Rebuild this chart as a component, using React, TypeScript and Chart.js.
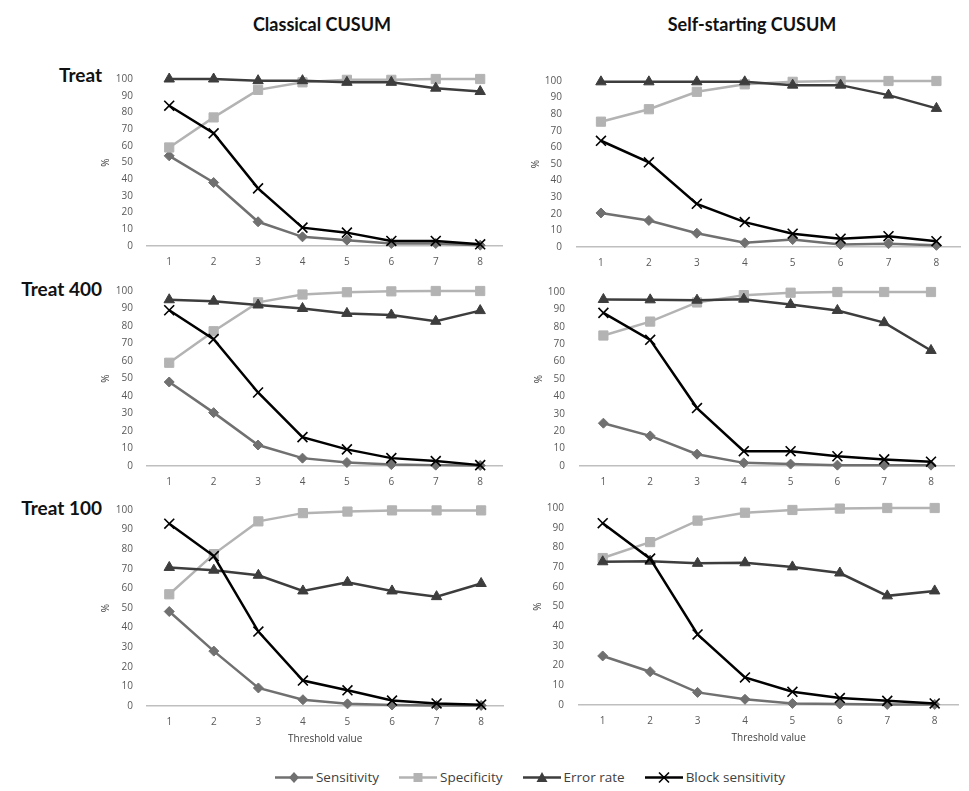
import React, { useEffect, useRef } from "react";
import { Chart, registerables } from "chart.js";

Chart.register(...registerables);

// ---------- data ----------
const thresholds = ["1", "2", "3", "4", "5", "6", "7", "8"];
const seriesNames = ["Sensitivity", "Specificity", "Error rate", "Block sensitivity"];
const columnTitles = ["Classical CUSUM", "Self-starting CUSUM"];
const rowTitles = ["Treat", "Treat 400", "Treat 100"];

const classicalTreatSens = [54, 38, 14.5, 5.5, 3.5, 1.5, 1.5, 0.5];
const classicalTreatSpec = [59, 77, 93.5, 98, 99.5, 99.5, 100, 100];
const classicalTreatErr = [100, 100, 99, 99, 98, 98, 94.5, 92.5];
const classicalTreatBlock = [84, 67.5, 34.5, 11, 8, 3, 3, 1];

const selfTreatSens = [20.5, 16, 8.3, 2.5, 4.5, 1.5, 2, 1];
const selfTreatSpec = [75.5, 83, 93.5, 98, 99.5, 100, 100, 100];
const selfTreatErr = [99.5, 99.5, 99.5, 99.5, 97.5, 97.5, 91.5, 83.5];
const selfTreatBlock = [64, 51, 26, 15, 8, 5, 6.5, 3.5];

const classical400Sens = [48, 30.5, 12, 4.5, 2, 0.8, 0.5, 0.3];
const classical400Spec = [59, 77, 93.5, 98, 99.3, 99.8, 100, 100];
const classical400Err = [95, 94.2, 92, 90, 87.2, 86.3, 82.7, 88.8];
const classical400Block = [89, 72.5, 42, 16.5, 9.5, 4.5, 2.8, 0.5];

const self400Sens = [24.6, 17.3, 6.8, 1.8, 1.1, 0.5, 0.5, 0.5];
const self400Spec = [75, 83, 94, 98.2, 99.6, 100, 100, 100];
const self400Err = [95.7, 95.5, 95.3, 95.9, 92.8, 89.4, 82.4, 66.4];
const self400Block = [88, 72.5, 33.3, 8.5, 8.5, 5.6, 3.8, 2.5];

const classical100Sens = [48.2, 28, 9.2, 3.2, 1.1, 0.5, 0.3, 0.3];
const classical100Spec = [57, 77.5, 94.2, 98.4, 99.2, 99.8, 99.8, 99.8];
const classical100Err = [70.7, 69.3, 66.7, 58.7, 63.1, 58.7, 55.8, 62.5];
const classical100Block = [93, 76.5, 38, 13, 8, 2.8, 1.3, 0.7];

const self100Sens = [24.9, 16.9, 6.4, 2.9, 0.8, 0.5, 0.3, 0.3];
const self100Spec = [74.6, 82.7, 93.6, 97.6, 99, 99.7, 100, 100];
const self100Err = [72.7, 73, 71.9, 72.2, 70.1, 67, 55.4, 57.9];
const self100Block = [92.3, 74.3, 35.8, 14, 6.7, 3.5, 2.1, 0.8];

// ---------- styles ----------
const COLORS = ["#707070", "#b3b3b3", "#3d3d3d", "#000000"];
const FONT = "'Open Sans', 'DejaVu Sans', sans-serif";
const TICK_COLOR = "#595959";

type PanelProps = {
  plotLeft: number;
  plotRight: number;
  plotTop: number;
  plotBottom: number;
  sens: number[];
  spec: number[];
  err: number[];
  block: number[];
  xTitle?: boolean;
  labelPad: number;
};

function Panel(p: PanelProps) {
  const ref = useRef<HTMLCanvasElement | null>(null);
  const Y_W = 50;
  const PAD_TOP = 10;
  const xH = p.xTitle ? 45 : 26;
  const left = p.plotLeft - Y_W;
  const top = p.plotTop - PAD_TOP;
  const width = p.plotRight - left;
  const height = p.plotBottom + xH - top;

  useEffect(() => {
    if (!ref.current) return;
    const tickFont = { family: FONT, size: 10 };
    const mk = (i: number, data: number[], style: any, radius: number, order: number) => ({
      label: seriesNames[i],
      data,
      borderColor: COLORS[i],
      backgroundColor: COLORS[i],
      pointBackgroundColor: COLORS[i],
      pointBorderColor: COLORS[i],
      borderWidth: 2.5,
      pointStyle: style,
      pointRadius: radius,
      pointBorderWidth: style === "crossRot" ? 1.6 : 1,
      tension: 0,
      clip: false as any,
      order,
    });
    const chart = new Chart(ref.current, {
      type: "line",
      data: {
        labels: thresholds,
        datasets: [
          mk(0, p.sens, "rectRot", 5, 3),
          mk(1, p.spec, "rect", 6.5, 2),
          mk(2, p.err, "triangle", 6, 1),
          mk(3, p.block, "crossRot", 7, 0),
        ],
      },
      options: {
        responsive: false,
        animation: false,
        devicePixelRatio: 1,
        layout: { padding: { top: PAD_TOP, left: 0, right: 0, bottom: 0 } },
        plugins: { legend: { display: false }, tooltip: { enabled: false } },
        scales: {
          x: {
            offset: true,
            grid: { display: false, drawTicks: false },
            border: { display: true, color: "#bfbfbf", width: 1.5 },
            ticks: { font: tickFont, color: TICK_COLOR, padding: 10, maxRotation: 0 },
            title: {
              display: !!p.xTitle,
              text: "Threshold value",
              font: { family: FONT, size: 10 },
              color: "#404040",
              padding: { top: 0, bottom: 6 },
            },
            afterFit: (s: any) => {
              s.height = xH;
            },
          },
          y: {
            min: 0,
            max: 100,
            ticks: { stepSize: 10, font: tickFont, color: TICK_COLOR, padding: p.labelPad },
            grid: { display: false, drawTicks: false },
            border: { display: false },
            title: {
              display: true,
              text: "%",
              font: { family: FONT, size: 10 },
              color: "#404040",
              padding: { top: 3, bottom: 0 },
            },
            afterFit: (s: any) => {
              s.width = Y_W;
            },
          },
        },
      } as any,
    });
    return () => chart.destroy();
  }, []);

  return (
    <canvas
      ref={ref}
      width={width}
      height={height}
      style={{ position: "absolute", left, top, width, height }}
    />
  );
}

function LegendMarker({ i }: { i: number }) {
  const c = COLORS[i];
  let m: any = null;
  if (i === 0) m = <polygon points="19,1 24,6.5 19,12 14,6.5" fill={c} />;
  if (i === 1) m = <rect x={14.5} y={2} width={9} height={9} fill={c} />;
  if (i === 2) m = <polygon points="19,1 24.5,11 13.5,11" fill={c} />;
  if (i === 3)
    m = (
      <g stroke={c} strokeWidth={1.6}>
        <line x1={14} y1={1.5} x2={24} y2={11.5} />
        <line x1={24} y1={1.5} x2={14} y2={11.5} />
      </g>
    );
  return (
    <svg width={38} height={13} style={{ display: "block" }}>
      <line x1={0} y1={6.5} x2={38} y2={6.5} stroke={c} strokeWidth={2.5} />
      {m}
    </svg>
  );
}

export default function App() {
  const titleStyle: React.CSSProperties = {
    position: "absolute",
    fontFamily: "Lato, 'Open Sans', sans-serif",
    fontWeight: 700,
    fontSize: 18,
    color: "#111",
    whiteSpace: "nowrap",
    lineHeight: "20px",
  };
  return (
    <div
      style={{
        position: "absolute",
        left: 0,
        top: 0,
        width: 969,
        height: 791,
        background: "#fff",
        overflow: "hidden",
      }}
    >
      <div style={{ ...titleStyle, left: 222, width: 200, top: 14, textAlign: "center" }}>
        {columnTitles[0]}
      </div>
      <div style={{ ...titleStyle, left: 652, width: 200, top: 14, textAlign: "center" }}>
        {columnTitles[1]}
      </div>
      <div style={{ ...titleStyle, fontSize: 19, left: 0, width: 102, top: 65, textAlign: "right" }}>
        {rowTitles[0]}
      </div>
      <div style={{ ...titleStyle, fontSize: 19, left: 0, width: 102, top: 279, textAlign: "right" }}>
        {rowTitles[1]}
      </div>
      <div style={{ ...titleStyle, fontSize: 19, left: 0, width: 102, top: 498, textAlign: "right" }}>
        {rowTitles[2]}
      </div>

      <Panel plotLeft={147} plotRight={511} plotTop={69} plotBottom={246}
        sens={classicalTreatSens} spec={classicalTreatSpec} err={classicalTreatErr} block={classicalTreatBlock} labelPad={14} />
      <Panel plotLeft={577} plotRight={969} plotTop={70} plotBottom={247}
        sens={selfTreatSens} spec={selfTreatSpec} err={selfTreatErr} block={selfTreatBlock} labelPad={15} />
      <Panel plotLeft={147} plotRight={511} plotTop={281} plotBottom={466}
        sens={classical400Sens} spec={classical400Spec} err={classical400Err} block={classical400Block} labelPad={14} />
      <Panel plotLeft={580} plotRight={963} plotTop={281} plotBottom={466}
        sens={self400Sens} spec={self400Spec} err={self400Err} block={self400Block} labelPad={15} />
      <Panel plotLeft={147} plotRight={512} plotTop={500} plotBottom={706} xTitle
        sens={classical100Sens} spec={classical100Spec} err={classical100Err} block={classical100Block} labelPad={14} />
      <Panel plotLeft={579} plotRight={967} plotTop={497} plotBottom={705} xTitle
        sens={self100Sens} spec={self100Spec} err={self100Err} block={self100Block} labelPad={15} />

      <div
        style={{
          position: "absolute",
          left: 0,
          width: 1060,
          top: 768,
          display: "flex",
          justifyContent: "center",
          alignItems: "center",
          gap: 20,
          fontFamily: FONT,
          fontSize: 13.5,
          color: "#404040",
        }}
      >
        {seriesNames.map((n, i) => (
          <div key={n} style={{ display: "flex", alignItems: "center", gap: 3 }}>
            <LegendMarker i={i} />
            <span>{n}</span>
          </div>
        ))}
      </div>
    </div>
  );
}
